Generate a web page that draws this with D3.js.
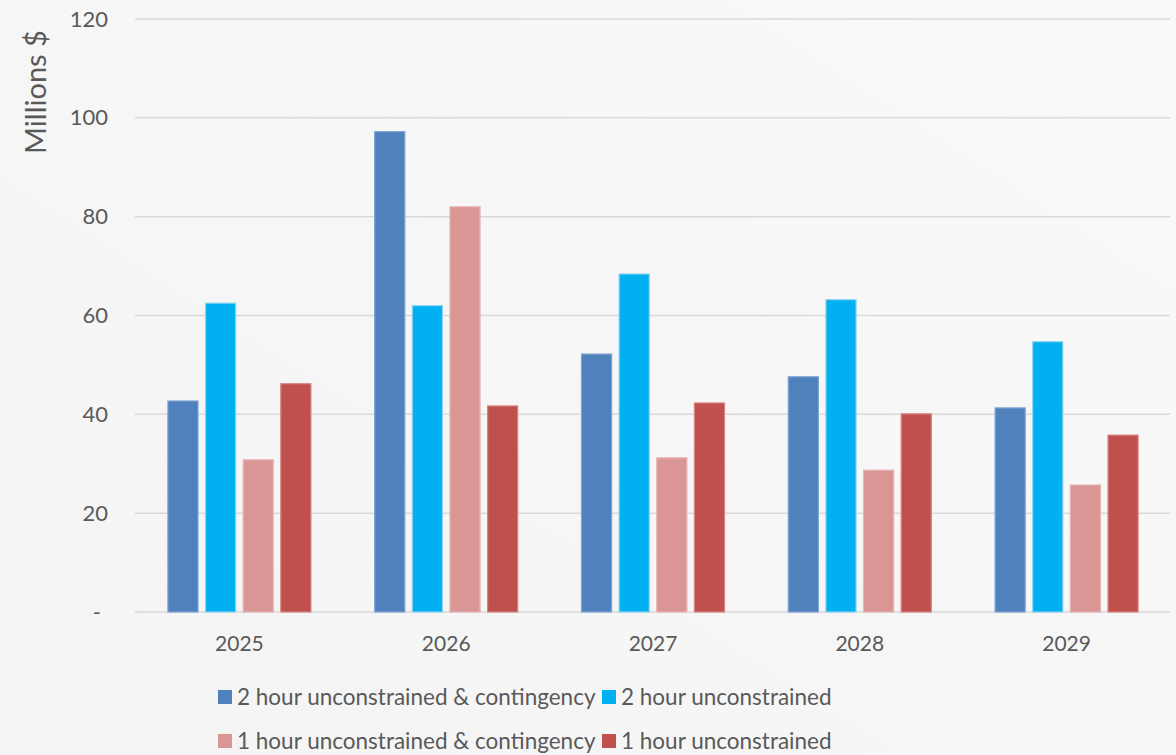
<!DOCTYPE html>
<html>
<head>
<meta charset="utf-8">
<script src="https://cdn.jsdelivr.net/npm/d3@7"></script>
<style>
  body { margin: 0; background: #f7f7f7; }
  text { font-family: Lato, "Open Sans", sans-serif; fill: #595959; }
</style>
</head>
<body>
<svg id="chart"></svg>
<script>
// data
const years = ["2025", "2026", "2027", "2028", "2029"];
const seriesNames = [
  "2 hour unconstrained & contingency",
  "2 hour unconstrained",
  "1 hour unconstrained & contingency",
  "1 hour unconstrained"
];
const twoHourContingency = [42.7, 97.2, 52.2, 47.6, 41.3];
const twoHour = [62.5, 62.0, 68.4, 63.2, 54.7];
const oneHourContingency = [30.8, 82.0, 31.2, 28.7, 25.7];
const oneHour = [46.2, 41.7, 42.3, 40.1, 35.8];
const yTicks = [0, 20, 40, 60, 80, 100, 120];

const seriesValues = [twoHourContingency, twoHour, oneHourContingency, oneHour];
const fills = ["#4F81BD", "#00B0F0", "#DA9694", "#C0504D"];
const strokes = ["#7FA3D3", "#8AD3EE", "#E6B5B4", "#D88482"];

const width = 1176, height = 755;

const svg = d3.select("#chart")
  .attr("width", width)
  .attr("height", height);

// soft background
const defs = svg.append("defs");
const bg = defs.append("linearGradient")
  .attr("id", "bg")
  .attr("x1", 0).attr("y1", 1).attr("x2", 1).attr("y2", 0);
bg.append("stop").attr("offset", "0%").attr("stop-color", "#f4f4f4");
bg.append("stop").attr("offset", "100%").attr("stop-color", "#f9f9f9");
svg.append("rect").attr("width", width).attr("height", height).attr("fill", "url(#bg)");

// scales
const x0 = d3.scaleBand()
  .domain(years)
  .range([136, 1170])
  .padding(0);

const inset = (x0.bandwidth() - 143) / 2;
const x1 = d3.scaleBand()
  .domain(d3.range(seriesNames.length))
  .range([inset, x0.bandwidth() - inset])
  .paddingInner(0.2)
  .paddingOuter(0);

const y = d3.scaleLinear()
  .domain([0, 120])
  .range([612, 19]);

// gridlines
svg.append("g")
  .selectAll("line")
  .data(yTicks)
  .enter()
  .append("line")
  .attr("x1", 135)
  .attr("x2", 1170)
  .attr("y1", d => y(d))
  .attr("y2", d => y(d))
  .attr("stroke", "#d9d9d9")
  .attr("stroke-width", 1.5);

// y axis labels
const yAxis = d3.axisLeft(y)
  .tickValues(yTicks)
  .tickSize(0)
  .tickPadding(0)
  .tickFormat(d => d === 0 ? "-" : d);

svg.append("g")
  .attr("transform", "translate(108,0)")
  .call(yAxis)
  .call(g => g.select(".domain").remove())
  .selectAll("text")
  .style("font-size", "22px")
  .attr("fill", "#595959")
  .attr("dx", d => d === 0 ? -7 : 0);

// y title
svg.append("text")
  .attr("transform", "rotate(-90)")
  .attr("x", -92)
  .attr("y", 46)
  .attr("text-anchor", "middle")
  .style("font-size", "29px")
  .text("Millions $");

// x axis labels
const xAxis = d3.axisBottom(x0).tickSize(0).tickPadding(0);
svg.append("g")
  .attr("transform", "translate(0,636)")
  .call(xAxis)
  .call(g => g.select(".domain").remove())
  .selectAll("text")
  .style("font-size", "21px")
  .attr("fill", "#595959");

// bars
const groups = svg.append("g")
  .selectAll("g")
  .data(years)
  .enter()
  .append("g")
  .attr("transform", d => `translate(${x0(d)},0)`);

groups.selectAll("rect")
  .data((d, i) => seriesValues.map((vals, s) => ({ s: s, value: vals[i] })))
  .enter()
  .append("rect")
  .attr("x", d => x1(d.s))
  .attr("y", d => y(d.value))
  .attr("width", x1.bandwidth())
  .attr("height", d => y(0) - y(d.value))
  .attr("fill", d => fills[d.s])
  .attr("stroke", d => strokes[d.s])
  .attr("stroke-width", 1.2);

// legend, two rows
const legendPos = [
  { x: 218, y: 697 },
  { x: 602, y: 697 },
  { x: 218, y: 741 },
  { x: 602, y: 741 }
];

const legend = svg.append("g")
  .selectAll("g")
  .data(seriesNames)
  .enter()
  .append("g")
  .attr("transform", (d, i) => `translate(${legendPos[i].x},${legendPos[i].y})`);

legend.append("rect")
  .attr("x", 0)
  .attr("y", -7)
  .attr("width", 14)
  .attr("height", 14)
  .attr("fill", (d, i) => fills[i]);

legend.append("text")
  .attr("x", 19)
  .attr("y", 0)
  .attr("dy", "0.35em")
  .style("font-size", "22.5px")
  .text(d => d);
</script>
</body>
</html>
